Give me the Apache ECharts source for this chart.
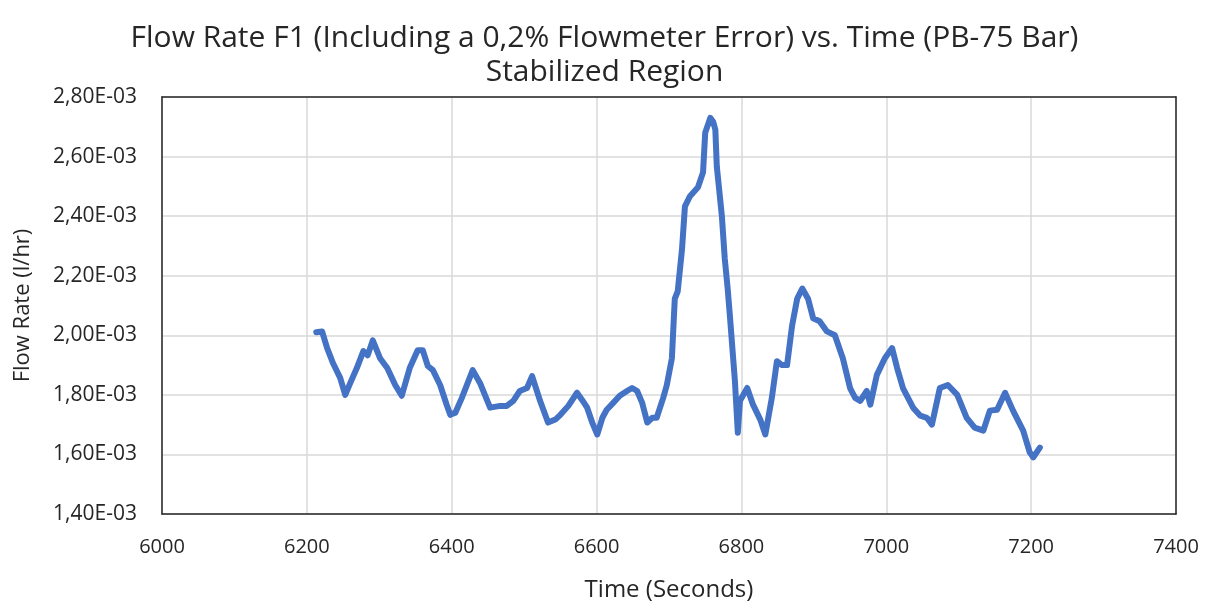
<!DOCTYPE html>
<html>
<head>
<meta charset="utf-8">
<script src="https://cdn.jsdelivr.net/npm/echarts@6/dist/echarts.min.js"></script>
<style>html,body{margin:0;padding:0;background:#fff}#c{width:1209px;height:607px}</style>
</head>
<body>
<div id="c"></div>
<script>
// Time (seconds)
const times = [6213,6221,6228,6236,6246,6253,6260,6269,6278,6284,6291,6301,6311,6322,6331,6342,6353,6360,6367,6374,6384,6393,6398,6405,6414,6429,6439,6453,6467,6476,6485,6494,6504,6511,6522,6533,6543,6550,6561,6573,6580,6587,6594,6601,6608,6614,6623,6632,6642,6649,6656,6663,6670,6677,6683,6692,6697,6704,6708,6712,6718,6722,6729,6740,6747,6750,6757,6761,6764,6766,6773,6777,6781,6784,6791,6795,6798,6808,6816,6826,6833,6842,6849,6856,6863,6870,6877,6884,6892,6899,6908,6918,6929,6940,6950,6957,6964,6973,6978,6987,6998,7008,7015,7023,7037,7047,7056,7063,7074,7085,7098,7111,7122,7134,7143,7153,7164,7175,7189,7198,7203,7212];
// Flow rate (l/hr)
const flow = [0.002010,0.002013,0.001957,0.001907,0.001857,0.001800,0.001840,0.001890,0.001947,0.001933,0.001983,0.001923,0.001890,0.001833,0.001797,0.001890,0.001950,0.001950,0.001897,0.001883,0.001833,0.001767,0.001733,0.001740,0.001790,0.001883,0.001840,0.001757,0.001763,0.001763,0.001780,0.001813,0.001823,0.001863,0.001780,0.001707,0.001717,0.001733,0.001763,0.001807,0.001783,0.001757,0.001707,0.001667,0.001723,0.001750,0.001773,0.001797,0.001813,0.001823,0.001813,0.001773,0.001707,0.001723,0.001723,0.001790,0.001833,0.001923,0.002123,0.002147,0.002290,0.002433,0.002467,0.002497,0.002547,0.002680,0.002730,0.002717,0.002690,0.002567,0.002400,0.002257,0.002157,0.002067,0.001847,0.001673,0.001780,0.001823,0.001767,0.001717,0.001667,0.001790,0.001913,0.001900,0.001900,0.002033,0.002123,0.002157,0.002123,0.002057,0.002047,0.002013,0.002000,0.001923,0.001823,0.001790,0.001780,0.001813,0.001767,0.001867,0.001923,0.001957,0.001890,0.001823,0.001757,0.001730,0.001723,0.001700,0.001823,0.001833,0.001800,0.001723,0.001690,0.001680,0.001747,0.001750,0.001807,0.001747,0.001680,0.001607,0.001590,0.001623];
const xTicks = [6000,6200,6400,6600,6800,7000,7200,7400];
const yTicks = [0.0014,0.0016,0.0018,0.0020,0.0022,0.0024,0.0026,0.0028];

const FONT = "'Open Sans', 'Noto Sans', sans-serif";
const TXT = '#262626';
const BORDER = {show: true, lineStyle: {color: '#262626', width: 1.5}};
const chart = echarts.init(document.getElementById('c'));
chart.setOption({
  animation: false,
  backgroundColor: '#ffffff',
  title: {
    text: 'Flow Rate F1 (Including a 0,2% Flowmeter Error) vs. Time (PB-75 Bar)\nStabilized Region',
    left: 'center',
    top: 16,
    textStyle: {fontFamily: FONT, fontWeight: 'normal', fontSize: 30, color: TXT, lineHeight: 34}
  },
  grid: {left: 162, right: 33, top: 97, bottom: 90},
  xAxis: [{
    type: 'value', min: xTicks[0], max: xTicks[xTicks.length-1], interval: 200,
    name: 'Time (Seconds)', nameLocation: 'middle', nameGap: 64,
    nameTextStyle: {fontFamily: FONT, fontSize: 24, color: TXT},
    axisLine: BORDER, axisTick: {show: false},
    axisLabel: {fontFamily: FONT, fontSize: 20, color: TXT, margin: 23, formatter: v => String(v)},
    splitLine: {show: true, lineStyle: {color: '#d9d9d9', width: 1.5}}
  }, {
    type: 'value', position: 'top', min: xTicks[0], max: xTicks[xTicks.length-1], interval: 200,
    axisLine: BORDER, axisTick: {show: false}, axisLabel: {show: false}, splitLine: {show: false}
  }],
  yAxis: [{
    type: 'value', min: yTicks[0], max: yTicks[yTicks.length-1], interval: 0.0002,
    name: 'Flow Rate (l/hr)', nameLocation: 'middle', nameGap: 128,
    nameTextStyle: {fontFamily: FONT, fontSize: 22, color: TXT},
    axisLine: BORDER, axisTick: {show: false},
    axisLabel: {fontFamily: FONT, fontSize: 21, color: TXT, margin: 25,
      formatter: v => (v*1000).toFixed(2).replace('.', ',') + 'E-03'},
    splitLine: {show: true, lineStyle: {color: '#d9d9d9', width: 1.5}}
  }, {
    type: 'value', position: 'right', min: yTicks[0], max: yTicks[yTicks.length-1], interval: 0.0002,
    axisLine: BORDER, axisTick: {show: false}, axisLabel: {show: false}, splitLine: {show: false}
  }],
  series: [{
    type: 'line',
    xAxisIndex: 0, yAxisIndex: 0,
    data: times.map((t, i) => [t, flow[i]]),
    showSymbol: false,
    lineStyle: {color: '#4472C4', width: 6, join: 'round', cap: 'round'},
    itemStyle: {color: '#4472C4'}
  }]
});
</script>
</body>
</html>
